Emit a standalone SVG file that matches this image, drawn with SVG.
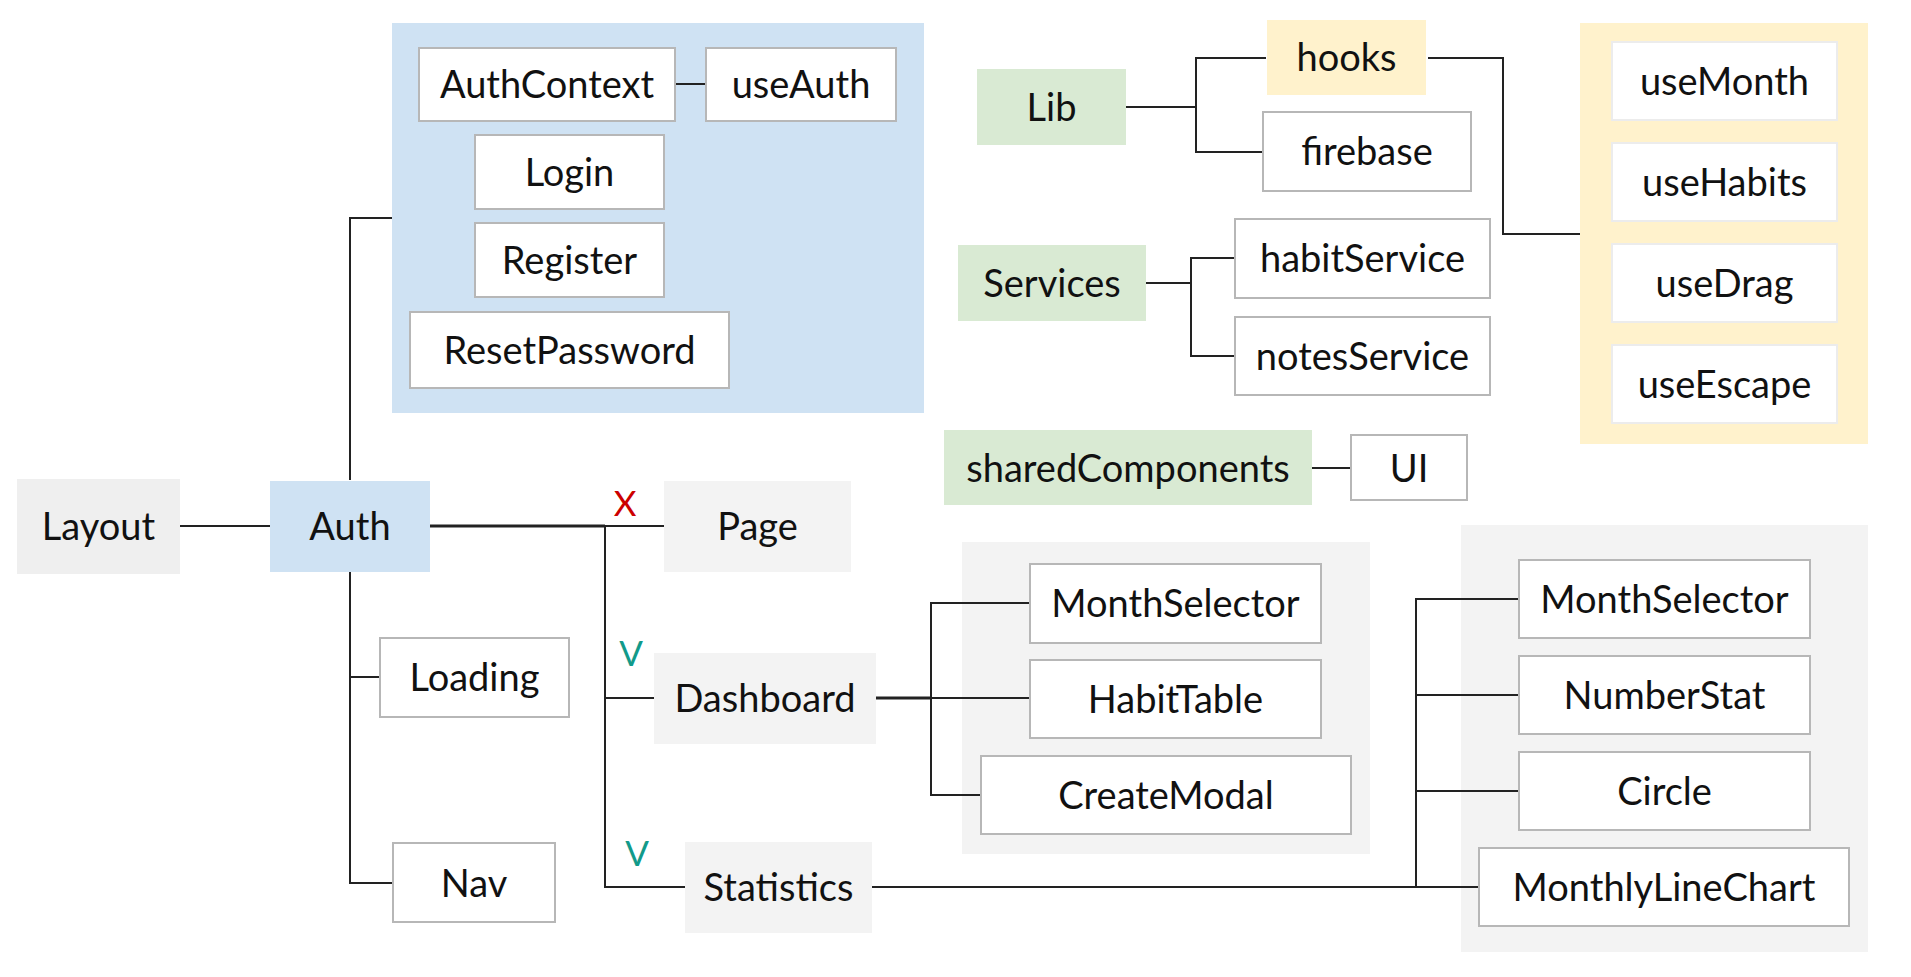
<svg xmlns="http://www.w3.org/2000/svg" width="1911" height="977" viewBox="0 0 1911 977">
<style>
.t{font-family:Lato,"Noto Sans",sans-serif;font-size:38px;fill:#111;text-anchor:middle}
.b{fill:#fff;stroke:#b7b7b7;stroke-width:2}
.h{fill:#fff;stroke:#ececec;stroke-width:2}
.c{fill:none;stroke:#222;stroke-width:2}
.grey{fill:#f3f3f3}
.blue{fill:#cfe2f3}
.green{fill:#d9ead3}
.yellow{fill:#fff2cc}
.lx{font-family:Lato,"Noto Sans",sans-serif;font-size:35px;fill:#cc0000;text-anchor:middle}
.lv{font-family:Lato,"Noto Sans",sans-serif;font-size:35px;fill:#129a8a;text-anchor:middle}
</style>
<rect width="1911" height="977" fill="#fff"/>
<g id="containers">
<rect id="authGroup" class="blue" x="392" y="23" width="532" height="390"/>
<rect id="hooksGroup" class="yellow" x="1580" y="23" width="288" height="421"/>
<rect id="dashGroup" class="grey" x="962" y="542" width="408" height="312"/>
<rect id="statsGroup" class="grey" x="1461" y="525" width="407" height="427"/>
</g>
<g id="connectors">
<path class="c" d="M675 84H706"/>
<path class="c" d="M350 480V218H392"/>
<path class="c" d="M180 526H270"/>
<path class="c" d="M430 526H605" style="stroke-width:3"/>
<path class="c" d="M605 526H664"/>
<path class="c" d="M350 572V883H393M350 677H380"/>
<path class="c" d="M605 526V887H685M605 698H654"/>
<path class="c" d="M876 698H931" style="stroke-width:3"/>
<path class="c" d="M931 698H1030M1030 603H931V795H981"/>
<path class="c" d="M872 887H1479M1519 599H1416V887M1416 695H1519M1416 791H1519"/>
<path class="c" d="M1126 107H1196M1266 58H1196V152H1263"/>
<path class="c" d="M1428 58H1503V234H1580"/>
<path class="c" d="M1146 283H1191M1235 258H1191V356H1235"/>
<path class="c" d="M1312 468H1351"/>
</g>
<g id="Layout"><rect class="grey" x="17" y="479" width="163" height="95" style="fill:#efefef"/><text class="t" x="98.5" y="540">Layout</text></g>
<g id="Auth"><rect class="blue" x="270" y="481" width="160" height="91"/><text class="t" x="350" y="540">Auth</text></g>
<g id="AuthContext"><rect class="b" x="419" y="48" width="256" height="73"/><text class="t" x="547" y="98">AuthContext</text></g>
<g id="useAuth"><rect class="b" x="706" y="48" width="190" height="73"/><text class="t" x="801" y="98">useAuth</text></g>
<g id="Login"><rect class="b" x="475" y="135" width="189" height="74"/><text class="t" x="569.5" y="186">Login</text></g>
<g id="Register"><rect class="b" x="475" y="223" width="189" height="74"/><text class="t" x="569.5" y="274">Register</text></g>
<g id="ResetPassword"><rect class="b" x="410" y="312" width="319" height="76"/><text class="t" x="569.5" y="364">ResetPassword</text></g>
<g id="Page"><rect class="grey" x="664" y="481" width="187" height="91"/><text class="t" x="757.5" y="540">Page</text></g>
<g id="Loading"><rect class="b" x="380" y="638" width="189" height="79"/><text class="t" x="474.5" y="691">Loading</text></g>
<g id="Nav"><rect class="b" x="393" y="843" width="162" height="79"/><text class="t" x="474" y="897">Nav</text></g>
<g id="Dashboard"><rect class="grey" x="654" y="653" width="222" height="91"/><text class="t" x="765" y="712">Dashboard</text></g>
<g id="Statistics"><rect class="grey" x="685" y="842" width="187" height="91"/><text class="t" x="778.5" y="901">Statistics</text></g>
<g id="labels">
<text class="lx" x="625" y="516">X</text>
<text class="lv" x="631" y="666">V</text>
<text class="lv" x="637" y="866">V</text>
</g>
<g id="MonthSelector1"><rect class="b" x="1030" y="564" width="291" height="79"/><text class="t" x="1175.5" y="617">MonthSelector</text></g>
<g id="HabitTable"><rect class="b" x="1030" y="660" width="291" height="78"/><text class="t" x="1175.5" y="713">HabitTable</text></g>
<g id="CreateModal"><rect class="b" x="981" y="756" width="370" height="78"/><text class="t" x="1166" y="809">CreateModal</text></g>
<g id="MonthSelector2"><rect class="b" x="1519" y="560" width="291" height="78"/><text class="t" x="1664.5" y="613">MonthSelector</text></g>
<g id="NumberStat"><rect class="b" x="1519" y="656" width="291" height="78"/><text class="t" x="1664.5" y="709">NumberStat</text></g>
<g id="Circle"><rect class="b" x="1519" y="752" width="291" height="78"/><text class="t" x="1664.5" y="805">Circle</text></g>
<g id="MonthlyLineChart"><rect class="b" x="1479" y="848" width="370" height="78"/><text class="t" x="1664" y="901">MonthlyLineChart</text></g>
<g id="Lib"><rect class="green" x="977" y="69" width="149" height="76"/><text class="t" x="1051.5" y="121">Lib</text></g>
<g id="hooks"><rect class="yellow" x="1267" y="20" width="159" height="75"/><text class="t" x="1346.5" y="71">hooks</text></g>
<g id="firebase"><rect class="b" x="1263" y="112" width="208" height="79"/><text class="t" x="1367" y="165">firebase</text></g>
<g id="useMonth"><rect class="h" x="1612" y="42" width="225" height="78"/><text class="t" x="1724.5" y="95">useMonth</text></g>
<g id="useHabits"><rect class="h" x="1612" y="143" width="225" height="78"/><text class="t" x="1724.5" y="196">useHabits</text></g>
<g id="useDrag"><rect class="h" x="1612" y="244" width="225" height="78"/><text class="t" x="1724.5" y="297">useDrag</text></g>
<g id="useEscape"><rect class="h" x="1612" y="345" width="225" height="78"/><text class="t" x="1724.5" y="398">useEscape</text></g>
<g id="Services"><rect class="green" x="958" y="245" width="188" height="76"/><text class="t" x="1052" y="297">Services</text></g>
<g id="habitService"><rect class="b" x="1235" y="219" width="255" height="79"/><text class="t" x="1362.5" y="272">habitService</text></g>
<g id="notesService"><rect class="b" x="1235" y="317" width="255" height="78"/><text class="t" x="1362.5" y="370">notesService</text></g>
<g id="sharedComponents"><rect class="green" x="944" y="430" width="368" height="75"/><text class="t" x="1128" y="482">sharedComponents</text></g>
<g id="UI"><rect class="b" x="1351" y="435" width="116" height="65"/><text class="t" x="1409" y="482">UI</text></g>
</svg>
